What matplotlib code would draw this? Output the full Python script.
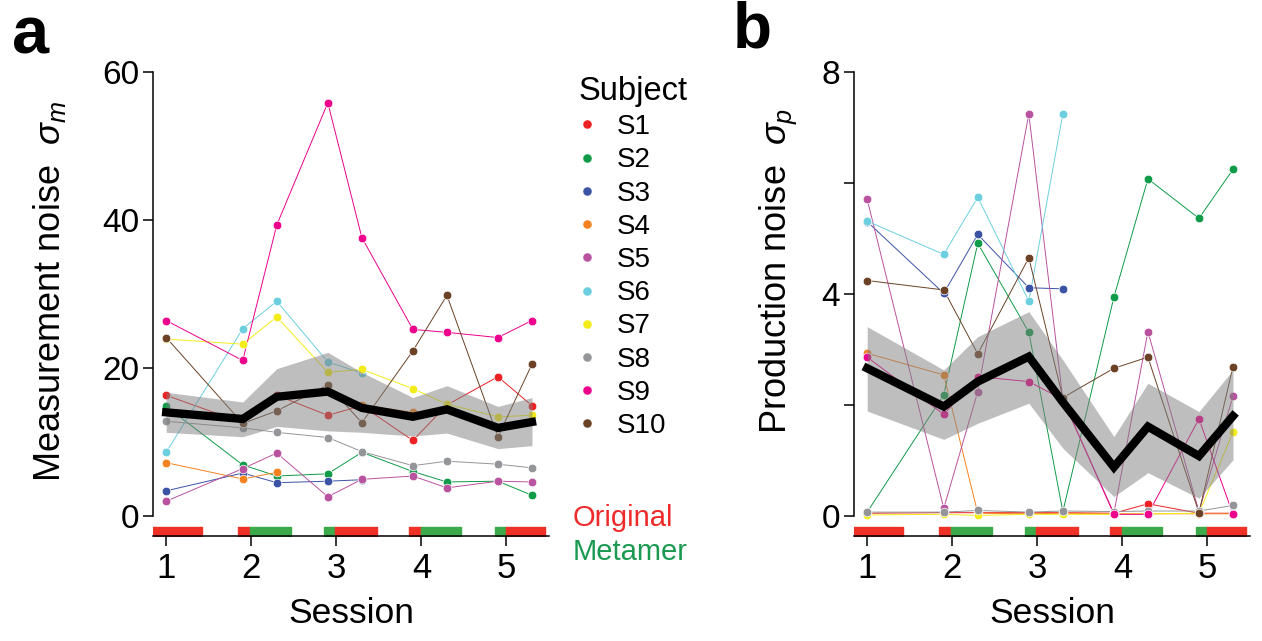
import numpy as np
import matplotlib.pyplot as plt
from matplotlib.lines import Line2D

plt.rcParams['font.family'] = ['Liberation Sans', 'DejaVu Sans']
plt.rcParams['mathtext.fontset'] = 'custom'
plt.rcParams['mathtext.it'] = 'Liberation Sans:italic'
plt.rcParams['mathtext.rm'] = 'Liberation Sans'

nan = np.nan

# session positions: first run of each session, then the second block
x_pos = [1, 1.9, 2.3, 2.9, 3.3, 3.9, 4.3, 4.9, 5.3]
sessions = [1, 2, 3, 4, 5]

subjects = ['S1', 'S2', 'S3', 'S4', 'S5', 'S6', 'S7', 'S8', 'S9', 'S10']
colors = ['#ED2024', '#0F9B48', '#3A53A4', '#F58220', '#B9529F',
          '#6CCFE0', '#F3EC19', '#939598', '#EC008C', '#6B4226']

# measurement noise sigma_m
sm_S1 = [16.3, 12.6, 16.3, 13.6, 14.9, 10.2, 15.0, 18.8, 14.9]
sm_S2 = [14.8, 6.9, 5.4, 5.7, 8.6, 6.0, 4.6, 4.7, 2.8]
sm_S3 = [3.4, 5.8, 4.5, 4.7, 4.9, nan, nan, nan, nan]
sm_S4 = [7.2, 5.0, 5.9, nan, 15.0, 14.0, nan, nan, nan]
sm_S5 = [2.0, 6.4, 8.5, 2.6, 4.95, 5.4, 3.8, 4.7, 4.6]
sm_S6 = [8.6, 25.3, 29.0, 20.8, 19.3, nan, nan, nan, nan]
sm_S7 = [23.9, 23.2, 26.9, 19.4, 19.8, 17.2, 15.1, 13.4, 13.6]
sm_S8 = [12.8, 11.9, 11.3, 10.6, 8.7, 6.8, 7.4, 7.0, 6.5]
sm_S9 = [26.4, 21.0, 39.3, 55.8, 37.6, 25.2, 24.8, 24.1, 26.4]
sm_S10 = [24.1, 12.5, 14.2, 17.7, 12.6, 22.3, 29.8, 10.7, 20.5]
sm_mean = [14.0, 13.1, 16.1, 16.8, 14.6, 13.4, 14.4, 11.9, 12.7]
sm_hi = [16.7, 15.4, 19.9, 22.1, 19.4, 16.0, 17.6, 14.8, 16.0]
sm_lo = [11.3, 10.7, 12.1, 11.5, 11.3, 10.8, 11.2, 9.1, 9.5]

# production noise sigma_p
sp_S1 = [0.05, 0.06, 0.06, 0.06, 0.06, 0.05, 0.22, 0.05, 0.05]
sp_S2 = [0.07, 2.18, 4.91, 3.31, 0.08, 3.94, 6.07, 5.36, 6.24]
sp_S3 = [5.30, 4.01, 5.07, 4.11, 4.09, nan, nan, nan, nan]
sp_S4 = [2.93, 2.54, 0.05, 0.04, 0.05, 0.04, 0.04, 0.04, 0.04]
sp_S5 = [5.70, 0.14, 2.24, 7.24, 2.10, 0.05, 3.32, 0.08, 2.16]
sp_S6 = [5.31, 4.71, 5.74, 3.87, 7.24, nan, nan, nan, nan]
sp_S7 = [0.02, 0.03, 0.01, 0.03, 0.03, 0.03, 0.04, 0.05, 1.51]
sp_S8 = [0.07, 0.07, 0.10, 0.07, 0.09, 0.08, 0.09, 0.09, 0.19]
sp_S9 = [2.86, 1.83, 2.51, 2.42, 2.10, 0.03, 0.03, 1.75, 0.03]
sp_S10 = [4.24, 4.07, 2.92, 4.65, 2.13, 2.66, 2.86, 0.06, 2.69]
sp_mean = [2.66, 1.97, 2.42, 2.87, 2.05, 0.88, 1.61, 1.08, 1.80]
sp_hi = [3.41, 2.63, 3.23, 3.68, 2.81, 1.43, 2.39, 1.88, 2.63]
sp_lo = [1.89, 1.38, 1.67, 2.03, 1.22, 0.35, 0.78, 0.32, 1.01]

sm_all = [sm_S1, sm_S2, sm_S3, sm_S4, sm_S5, sm_S6, sm_S7, sm_S8, sm_S9, sm_S10]
sp_all = [sp_S1, sp_S2, sp_S3, sp_S4, sp_S5, sp_S6, sp_S7, sp_S8, sp_S9, sp_S10]

# stimulus blocks under the x axis: (start, end, type)
blocks = [(0.84, 1.42, 'Original'),
          (1.84, 1.98, 'Original'), (1.98, 2.47, 'Metamer'),
          (2.86, 2.99, 'Metamer'), (2.99, 3.48, 'Original'),
          (3.86, 3.99, 'Original'), (3.99, 4.47, 'Metamer'),
          (4.86, 4.99, 'Metamer'), (4.99, 5.45, 'Original')]
block_col = {'Original': '#EE3124', 'Metamer': '#3AAA4A'}

W, H = 1262, 641
fig = plt.figure(figsize=(W / 100, H / 100), dpi=100)
ax_a = fig.add_axes([153 / W, 1 - 536 / H, 396 / W, 464.3 / H])
ax_b = fig.add_axes([854 / W, 1 - 536 / H, 396 / W, 464.3 / H])


def panel(ax, data, mean, lo, hi, ymax, bar_h, yticks, yticklabels):
    for vals, c in zip(data, colors):
        ax.plot(x_pos, vals, '-', color=c, lw=0.7, zorder=2)
        ax.plot(x_pos, vals, 'o', color=c, ms=6.2, mec='white', mew=0.5, zorder=3)
    ax.fill_between(x_pos, lo, hi, color='#7f7f7f', alpha=0.5, lw=0, zorder=4)
    ax.plot(x_pos, mean, '-', color='black', lw=6, zorder=5, solid_joinstyle='miter')
    for s, e, kind in blocks:
        ax.broken_barh([(s, e - s)], (-bar_h, bar_h * 0.45), color=block_col[kind], zorder=1)
    ax.set_xlim(0.845, 5.5)
    ax.set_ylim(-bar_h, ymax)
    ax.spines['top'].set_visible(False)
    ax.spines['right'].set_visible(False)
    ax.spines['left'].set_bounds(0, ymax)
    for sp in ['left', 'bottom']:
        ax.spines[sp].set_linewidth(1.1)
    ax.set_xticks(sessions)
    ax.set_xticklabels([str(s) for s in sessions])
    ax.set_yticks(yticks)
    ax.set_yticklabels(yticklabels)
    ax.tick_params(axis='y', length=7, width=1.1, pad=3, labelsize=24)
    ax.tick_params(axis='x', length=7.5, width=1.1, pad=4, labelsize=25)
    ax.set_xlabel('Session', fontsize=25.5, labelpad=9)


panel(ax_a, sm_all, sm_mean, sm_lo, sm_hi, 60, 2.7, [0, 20, 40, 60], ['0', '20', '40', '60'])
panel(ax_b, sp_all, sp_mean, sp_lo, sp_hi, 8, 0.36, [0, 2, 4, 6, 8], ['0', '', '4', '', '8'])

ax_a.set_ylabel(r'Measurement noise  $\sigma_m$', fontsize=26)
ax_a.yaxis.set_label_coords(-0.215, 0.526)
ax_b.set_ylabel(r'Production noise  $\sigma_p$', fontsize=26)
ax_b.yaxis.set_label_coords(-0.14, 0.571)

fig.text(12 / W, 1 - 53 / H, 'a', fontsize=48, fontweight='bold', va='baseline')
fig.text(733 / W, 1 - 48 / H, 'b', fontsize=46, fontweight='bold', va='baseline')

handles = [Line2D([], [], ls='', marker='o', color=c, ms=6.5, mec='white', mew=0.3) for c in colors]
leg = fig.legend(handles, subjects, title='Subject', loc='upper left',
                 bbox_to_anchor=(565 / W, 1 - 62 / H), frameon=False,
                 fontsize=20, title_fontsize=23.5, handlelength=0.6,
                 handletextpad=0.75, labelspacing=0.26, borderpad=0,
                 alignment='left')

fig.text(573 / W, 1 - 518 / H, 'Original', color='#EE2A2A', fontsize=21, va='center')
fig.text(573 / W, 1 - 552 / H, 'Metamer', color='#1A9A50', fontsize=21, va='center')

fig.savefig('out.png', dpi=100)
